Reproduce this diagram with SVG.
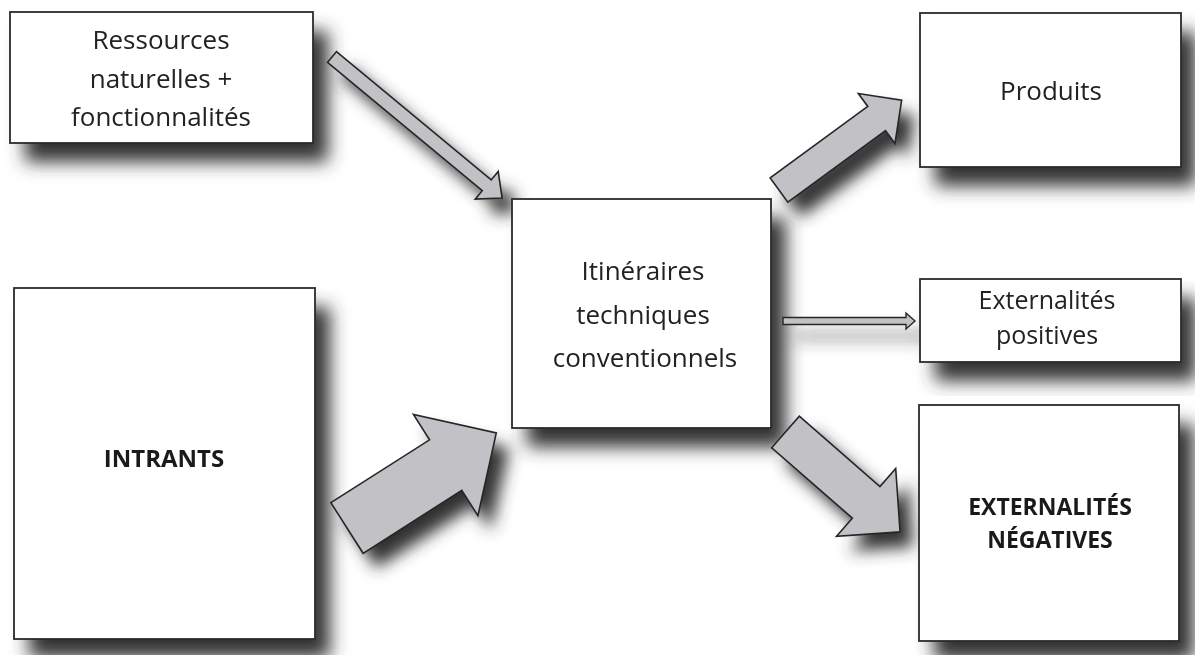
<svg xmlns="http://www.w3.org/2000/svg" width="1195" height="655" viewBox="0 0 1195 655">
<defs>
<filter id="shB" x="-20%" y="-20%" width="160%" height="160%">
<feGaussianBlur in="SourceAlpha" stdDeviation="9"/>
<feOffset dx="15" dy="19" result="b"/>
<feFlood flood-color="#333" flood-opacity="1"/>
<feComposite in2="b" operator="in"/>
</filter>
<filter id="shA" x="-20%" y="-20%" width="150%" height="150%">
<feGaussianBlur in="SourceAlpha" stdDeviation="8"/>
<feOffset dx="13" dy="15" result="b"/>
<feFlood flood-color="#333" flood-opacity="1"/>
<feComposite in2="b" operator="in"/>
</filter>
<polygon id="a1" points="0,-7 201,-7 201,-18 221,0 201,18 201,7 0,7"/>
<polygon id="a2" points="0,-15 121,-15 121,-31 152,0 121,31 121,15 0,15"/>
<polygon id="a3" points="0,-30 117,-30 117,-60 177,0 117,60 117,30 0,30"/>
<polygon id="a4" points="0,-21 107,-21 107,-45 152,0 107,45 107,21 0,21"/>
<polygon id="a5" points="0,-3.5 123,-3.5 123,-8 132,0 123,8 123,3.5 0,3.5"/>
</defs>
<style>
.box{fill:#fff;stroke:#2b2b2b;stroke-width:1.8}
.sh{fill:#000;filter:url(#shB)}
.arr{fill:#c2c2c6;stroke:#262626;stroke-width:1.6;stroke-linejoin:miter}
.t{font-family:"Open Sans","Noto Sans",sans-serif;font-size:26px;fill:#222;text-anchor:middle}
.tb{font-family:"Open Sans","Noto Sans",sans-serif;font-size:23px;font-weight:bold;fill:#1a1a1a;text-anchor:middle}
</style>
<rect width="1195" height="655" fill="#fff"/>

<g id="shadows">
<rect class="sh" x="10" y="12" width="303" height="131"/>
<rect class="sh" x="14" y="288" width="301" height="351"/>
<rect class="sh" x="512" y="199" width="259" height="229"/>
<rect class="sh" x="920" y="13" width="261" height="154"/>
<rect class="sh" x="920" y="279" width="261" height="83"/>
<rect class="sh" x="919" y="405" width="260" height="236"/>
<g filter="url(#shA)" fill="#000">
<use href="#a1" transform="translate(332,57) rotate(39.67)"/>
<use href="#a2" transform="translate(779,190) rotate(-36.2)"/>
<use href="#a3" transform="translate(347,528) rotate(-32.5)"/>
<use href="#a4" transform="translate(785.5,432) rotate(41.1)"/>
<use href="#a5" transform="translate(783,321)" opacity="0.6"/>
</g>
</g>

<g id="n-ressources">
<rect class="box" x="10" y="12" width="303" height="131"/>
<text class="t" x="161" y="49">Ressources</text>
<text class="t" x="161" y="88">naturelles +</text>
<text class="t" x="161" y="126">fonctionnalités</text>
</g>
<g id="n-intrants">
<rect class="box" x="14" y="288" width="301" height="351"/>
<text class="tb" x="164" y="467" style="font-size:24px">INTRANTS</text>
</g>
<g id="n-itineraires">
<rect class="box" x="512" y="199" width="259" height="229"/>
<text class="t" x="643" y="280">Itinéraires</text>
<text class="t" x="643" y="324">techniques</text>
<text class="t" x="645" y="367">conventionnels</text>
</g>
<g id="n-produits">
<rect class="box" x="920" y="13" width="261" height="154"/>
<text class="t" x="1051" y="100">Produits</text>
</g>
<g id="n-ext-pos">
<rect class="box" x="920" y="279" width="261" height="83"/>
<text class="t" x="1047" y="309" style="font-size:25px">Externalités</text>
<text class="t" x="1047" y="344" style="font-size:25px">positives</text>
</g>
<g id="n-ext-neg">
<rect class="box" x="919" y="405" width="260" height="236"/>
<text class="tb" x="1050" y="515">EXTERNALITÉS</text>
<text class="tb" x="1050" y="548">NÉGATIVES</text>
</g>

<g id="connectors">
<use href="#a1" class="arr" transform="translate(332,57) rotate(39.67)"/>
<use href="#a2" class="arr" transform="translate(779,190) rotate(-36.2)"/>
<use href="#a3" class="arr" transform="translate(347,528) rotate(-32.5)"/>
<use href="#a4" class="arr" transform="translate(785.5,432) rotate(41.1)"/>
<use href="#a5" class="arr" transform="translate(783,321)" style="stroke-width:1.4"/>
</g>
</svg>
